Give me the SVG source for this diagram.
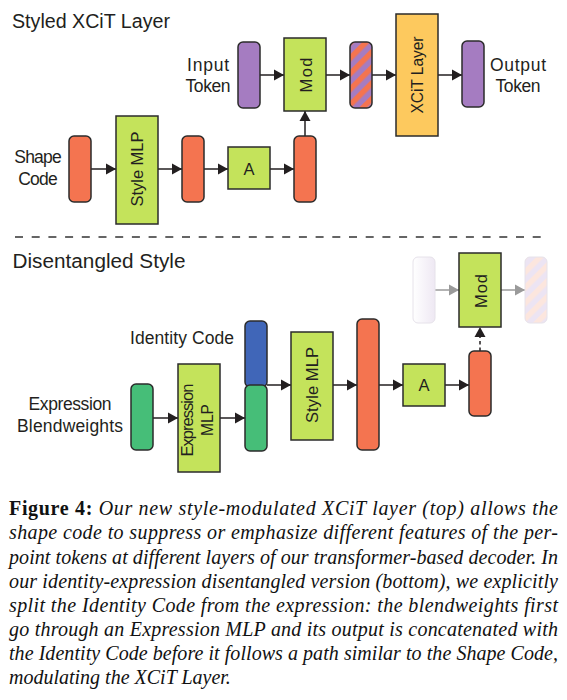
<svg xmlns="http://www.w3.org/2000/svg" width="567" height="700" viewBox="0 0 567 700">
<defs>
<marker id="ah" markerUnits="userSpaceOnUse" markerWidth="11" markerHeight="12" refX="10" refY="6" orient="auto">
<path d="M0,0.5 L10,6 L0,11.5 z" fill="#231F20"/>
</marker>
<marker id="ahg" markerUnits="userSpaceOnUse" markerWidth="11" markerHeight="12" refX="10" refY="6" orient="auto">
<path d="M0,0.5 L10,6 L0,11.5 z" fill="#9A9A9A"/>
</marker>
<pattern id="stripes" patternUnits="userSpaceOnUse" width="11" height="11" patternTransform="rotate(45)">
<rect x="0" y="0" width="11" height="11" fill="#A57CC1"/>
<rect x="0" y="0" width="5.5" height="11" fill="#F47450"/>
</pattern>
<pattern id="stripesFaded" patternUnits="userSpaceOnUse" width="11" height="11" patternTransform="rotate(45)">
<rect x="0" y="0" width="11" height="11" fill="#ECE4F3"/>
<rect x="0" y="0" width="5.5" height="11" fill="#FCE6DE"/>
</pattern>
<linearGradient id="fadeL" x1="0" y1="0" x2="1" y2="0">
<stop offset="0" stop-color="#FFFFFF"/>
<stop offset="1" stop-color="#EEE8F3"/>
</linearGradient>
</defs>
<style>
.tok{stroke:#2B2B2B;stroke-width:1.5}
.box{stroke:#2B2B2B;stroke-width:1.5}
.lime{fill:#C4E35B}
.orange{fill:#F47450}
.purple{fill:#A57CC1}
.yellow{fill:#FDC95E}
.blue{fill:#4066B8}
.green{fill:#46BE78}
.lbl{font-family:"Liberation Sans",Arial,sans-serif;font-size:17.5px;fill:#231F20}
.in{font-family:"Liberation Sans",Arial,sans-serif;font-size:16.5px;fill:#231F20;text-anchor:middle}
.title{font-family:"Liberation Sans",Arial,sans-serif;font-size:19.5px;fill:#231F20}
.cap{font-family:"Liberation Serif","Times New Roman",serif;font-size:20px;font-style:italic;fill:#111}
.edge{stroke:#231F20;stroke-width:1.5;fill:none;marker-end:url(#ah)}
.edgeg{stroke:#9A9A9A;stroke-width:1.5;fill:none;marker-end:url(#ahg)}
.faded{stroke:#E6E2EA;stroke-width:1}
</style>
<rect x="0" y="0" width="567" height="700" fill="#FFFFFF"/>

<text class="title" x="12" y="28" textLength="158" lengthAdjust="spacingAndGlyphs">Styled XCiT Layer</text>
<line x1="15" y1="237" x2="542" y2="237" stroke="#333" stroke-width="1.3" stroke-dasharray="8 8.7"/>
<text class="title" x="12.5" y="268" textLength="173" lengthAdjust="spacingAndGlyphs">Disentangled Style</text>

<g id="connectors">
<line class="edge" x1="260" y1="75" x2="284" y2="75"/>
<line class="edge" x1="326" y1="75" x2="350" y2="75"/>
<line class="edge" x1="372" y1="75" x2="396" y2="75"/>
<line class="edge" x1="438" y1="75" x2="462" y2="75"/>
<line class="edge" x1="91" y1="169" x2="116" y2="169"/>
<line class="edge" x1="158" y1="169" x2="182" y2="169"/>
<line class="edge" x1="204" y1="169" x2="228" y2="169"/>
<line class="edge" x1="270" y1="169" x2="294" y2="169"/>
<line class="edge" x1="305" y1="136" x2="305" y2="111"/>
<line class="edge" x1="153" y1="418" x2="178" y2="418"/>
<line class="edge" x1="220" y1="418" x2="245" y2="418"/>
<line class="edge" x1="267" y1="385" x2="291" y2="385"/>
<line class="edge" x1="333" y1="385" x2="357" y2="385"/>
<line class="edge" x1="379" y1="385" x2="403" y2="385"/>
<line class="edge" x1="445" y1="385" x2="469" y2="385"/>
<line x1="480" y1="351" x2="480" y2="337" stroke="#231F20" stroke-width="1.5" stroke-dasharray="3.5 3"/>
<path d="M474.5,337 L480,327 L485.5,337 z" fill="#231F20"/>
<line class="edgeg" x1="435" y1="290" x2="459" y2="290"/>
<line class="edgeg" x1="501" y1="290" x2="525" y2="290"/>
</g>

<g id="input-token">
<rect class="tok purple" x="238" y="42" width="22" height="66" rx="5"/>
<text class="lbl" x="208" y="71" text-anchor="middle" textLength="42">Input</text>
<text class="lbl" x="208" y="92" text-anchor="middle" textLength="45">Token</text>
</g>
<g id="mod-top">
<rect class="box lime" x="284" y="38" width="42" height="73"/>
<text class="in" font-size="17.5" transform="translate(305,75) rotate(-90)" y="6.5" textLength="35">Mod</text>
</g>
<g id="mixed-token">
<rect class="tok" x="350" y="42" width="22" height="66" rx="5" fill="url(#stripes)"/>
</g>
<g id="xcit-layer">
<rect class="box yellow" x="396" y="14" width="42" height="122"/>
<text class="in" font-size="17" transform="translate(417,75) rotate(-90)" y="6" textLength="77" lengthAdjust="spacingAndGlyphs">XCiT Layer</text>
</g>
<g id="output-token">
<rect class="tok purple" x="462" y="41" width="22" height="66" rx="5"/>
<text class="lbl" x="518" y="71" text-anchor="middle" textLength="56">Output</text>
<text class="lbl" x="518" y="92" text-anchor="middle" textLength="45">Token</text>
</g>
<g id="shape-code">
<rect class="tok orange" x="69" y="136" width="22" height="66" rx="5"/>
<text class="lbl" x="38" y="163" text-anchor="middle" textLength="47.5">Shape</text>
<text class="lbl" x="38" y="185" text-anchor="middle" textLength="39.5">Code</text>
</g>
<g id="style-mlp-top">
<rect class="box lime" x="116" y="116" width="42" height="108"/>
<text class="in" transform="translate(137,169) rotate(-90)" y="6" textLength="75">Style MLP</text>
</g>
<g id="style-out-top">
<rect class="tok orange" x="182" y="136" width="22" height="66" rx="5"/>
</g>
<g id="a-top">
<rect class="box lime" x="228" y="147" width="42" height="42"/>
<text class="in" font-size="19" x="249" y="174.5">A</text>
</g>
<g id="a-out-top">
<rect class="tok orange" x="294" y="136" width="22" height="66" rx="5"/>
</g>

<g id="blendweights">
<rect class="tok green" x="131" y="384" width="22" height="66" rx="5"/>
<text class="lbl" x="70" y="410" text-anchor="middle" textLength="83">Expression</text>
<text class="lbl" x="70" y="432" text-anchor="middle" textLength="106">Blendweights</text>
</g>
<g id="expression-mlp">
<rect class="box lime" x="178" y="364" width="42" height="108"/>
<text class="in" font-size="15" transform="translate(199,420) rotate(-90)" y="-6.5" textLength="73">Expression</text>
<text class="in" font-size="15" transform="translate(199,420) rotate(-90)" y="14" textLength="32" lengthAdjust="spacingAndGlyphs">MLP</text>
</g>
<g id="identity-code">
<rect class="tok blue" x="245" y="321" width="22" height="66" rx="5"/>
<text class="lbl" x="182" y="344" text-anchor="middle" textLength="104">Identity Code</text>
</g>
<g id="expression-code">
<rect class="tok green" x="245" y="385" width="22" height="66" rx="5"/>
</g>
<g id="style-mlp-bottom">
<rect class="box lime" x="291" y="332" width="42" height="108"/>
<text class="in" transform="translate(312,385) rotate(-90)" y="6" textLength="76">Style MLP</text>
</g>
<g id="style-out-bottom">
<rect class="tok orange" x="357" y="319" width="22" height="131" rx="5"/>
</g>
<g id="a-bottom">
<rect class="box lime" x="403" y="364" width="42" height="42"/>
<text class="in" font-size="18" x="424" y="391">A</text>
</g>
<g id="a-out-bottom">
<rect class="tok orange" x="469" y="351" width="22" height="65" rx="5"/>
</g>
<g id="faded-input">
<rect class="faded" x="413" y="257" width="22" height="66" rx="5" fill="url(#fadeL)"/>
</g>
<g id="mod-bottom">
<rect class="box lime" x="459" y="253" width="42" height="74"/>
<text class="in" font-size="17.5" transform="translate(480,291) rotate(-90)" y="6.5" textLength="34">Mod</text>
</g>
<g id="faded-output">
<rect class="faded" x="525" y="257" width="22" height="66" rx="5" fill="url(#stripesFaded)"/>
</g>

<g id="caption">
<text class="cap" x="9" y="515" textLength="549" lengthAdjust="spacing"><tspan font-weight="bold" font-style="normal">Figure 4:</tspan> Our new style-modulated XCiT layer (top) allows the</text>
<text class="cap" x="9" y="539" textLength="549" lengthAdjust="spacing">shape code to suppress or emphasize different features of the per-</text>
<text class="cap" x="9" y="563.5" textLength="549" lengthAdjust="spacing">point tokens at different layers of our transformer-based decoder. In</text>
<text class="cap" x="9" y="587.5" textLength="549" lengthAdjust="spacing">our identity-expression disentangled version (bottom), we explicitly</text>
<text class="cap" x="9" y="611.5" textLength="549" lengthAdjust="spacing">split the Identity Code from the expression: the blendweights first</text>
<text class="cap" x="9" y="636" textLength="549" lengthAdjust="spacing">go through an Expression MLP and its output is concatenated with</text>
<text class="cap" x="9" y="660" textLength="549" lengthAdjust="spacing">the Identity Code before it follows a path similar to the Shape Code,</text>
<text class="cap" x="9" y="684">modulating the XCiT Layer.</text>
</g>
</svg>
